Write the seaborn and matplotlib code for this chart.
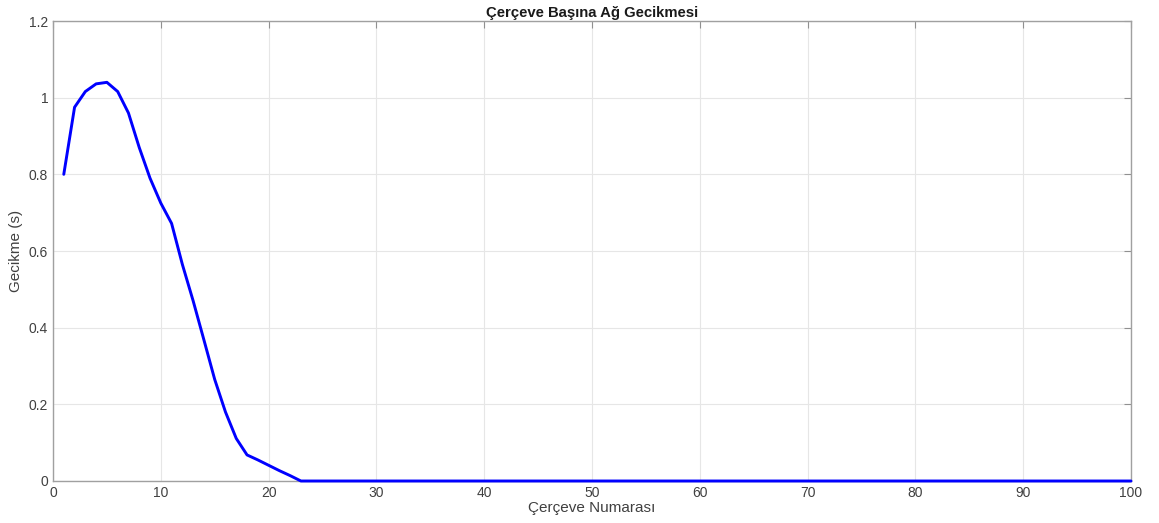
import numpy as np
import pandas as pd
import matplotlib
matplotlib.use("Agg")
import matplotlib.pyplot as plt
import seaborn as sns

frames = list(range(1, 101))
delay_head = [0.80, 0.975, 1.016, 1.036, 1.040, 1.016, 0.960, 0.870, 0.790, 0.725,
              0.672, 0.565, 0.470, 0.368, 0.265, 0.180, 0.111, 0.068, 0.055, 0.041,
              0.027, 0.014, 0.0]
delay = delay_head + [0.0] * (len(frames) - len(delay_head))

title = "Çerçeve Başına Ağ Gecikmesi"
xlabel = "Çerçeve Numarası"
ylabel = "Gecikme (s)"
xticks = [0, 10, 20, 30, 40, 50, 60, 70, 80, 90, 100]
yticks = [0, 0.2, 0.4, 0.6, 0.8, 1.0, 1.2]
ytick_labels = ["0", "0.2", "0.4", "0.6", "0.8", "1", "1.2"]

df = pd.DataFrame({"frame": frames, "delay": delay})

sns.set_theme(style="white")
plt.rcParams['font.family'] = ['Liberation Sans', 'DejaVu Sans']

fig = plt.figure(figsize=(11.59, 5.23), dpi=100)
ax = fig.add_axes([53/1159, 1-481/523, (1131-53)/1159, (481-21)/523])

sns.lineplot(data=df, x="frame", y="delay", color="#0000ff", linewidth=2.1, ax=ax)
ax.lines[0].set_clip_on(False)

ax.set_xlim(0, 100)
ax.set_ylim(0, 1.2)
ax.set_xticks(xticks)
ax.set_yticks(yticks)
ax.set_yticklabels(ytick_labels)
ax.grid(True, color="#e6e6e6", linewidth=0.8)
ax.set_axisbelow(True)
for s in ax.spines.values():
    s.set_color("#a0a0a0")
    s.set_linewidth(1.0)
    s.set_zorder(1)
ax.tick_params(direction="in", length=5, width=0.8, colors="#909090",
               labelsize=10, top=True, right=True, labelcolor="#404040")
ax.set_title(title, fontsize=10.7, fontweight="bold", color="#1a1a1a", pad=3)
ax.set_xlabel(xlabel, fontsize=11, color="#404040", labelpad=1)
ax.set_ylabel(ylabel, fontsize=11, color="#404040", labelpad=4)

fig.savefig("out.png", dpi=100)
